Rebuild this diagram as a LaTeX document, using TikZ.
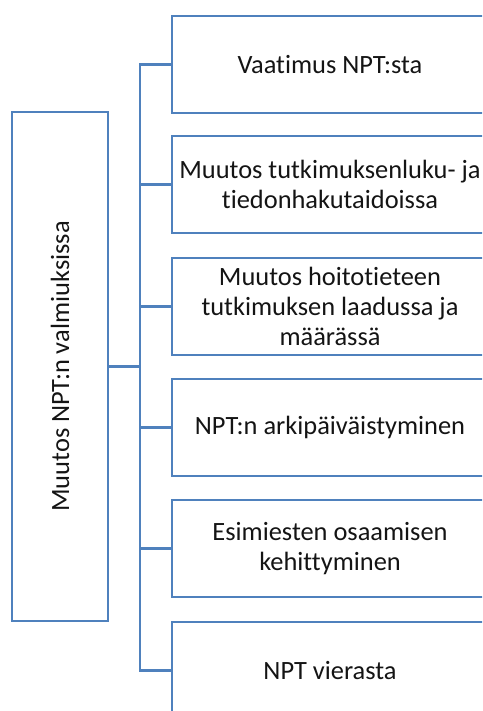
\documentclass[tikz,border=0pt]{standalone}
\usepackage{fontspec}
\setmainfont{Carlito}[Ligatures={NoCommon}]
\definecolor{boxblue}{RGB}{79,129,189}
\definecolor{txt}{RGB}{20,20,20}
\begin{document}
\begin{tikzpicture}[x=0.5pt,y=-0.5pt,
  every node/.style={font=\fontsize{13.2}{15}\selectfont, text=txt},
  leaf/.style={draw=boxblue, line width=1.2pt, minimum width=158pt, minimum height=48.5pt, align=center, inner sep=0pt},
  root/.style={draw=boxblue, line width=1.2pt, minimum width=48pt, minimum height=254.5pt, inner sep=0pt},
  link/.style={draw=boxblue, line width=1.2pt}]
\useasboundingbox (0,0) rectangle (482,711);
\clip (0,0) rectangle (482,711);
\node[root] (L) at (60,366.5) {\rotatebox{90}{Muutos NPT:n valmiuksissa}};
\node[leaf] (B1) at (330,64.5) {Vaatimus NPT:sta};
\node[leaf] (B2) at (330,184.5) {Muutos tutkimuksenluku- ja\\tiedonhakutaidoissa};
\node[leaf] (B3) at (330,306.5) {Muutos hoitotieteen\\tutkimuksen laadussa ja\\määrässä};
\node[leaf] (B4) at (330,427.5) {NPT:n arkipäiväistyminen};
\node[leaf] (B5) at (330,548.5) {Esimiesten osaamisen\\kehittyminen};
\node[leaf] (B6) at (330,670.5) {NPT vierasta};
\coordinate (bus) at (140,0);
\draw[link] (L.east) -- (L.east -| bus);
\draw[link] (B1.west) -- (B1.west -| bus) -- (B6.west -| bus) -- (B6.west);
\draw[link] (B2.west) -- (B2.west -| bus);
\draw[link] (B3.west) -- (B3.west -| bus);
\draw[link] (B4.west) -- (B4.west -| bus);
\draw[link] (B5.west) -- (B5.west -| bus);
\end{tikzpicture}
\end{document}
